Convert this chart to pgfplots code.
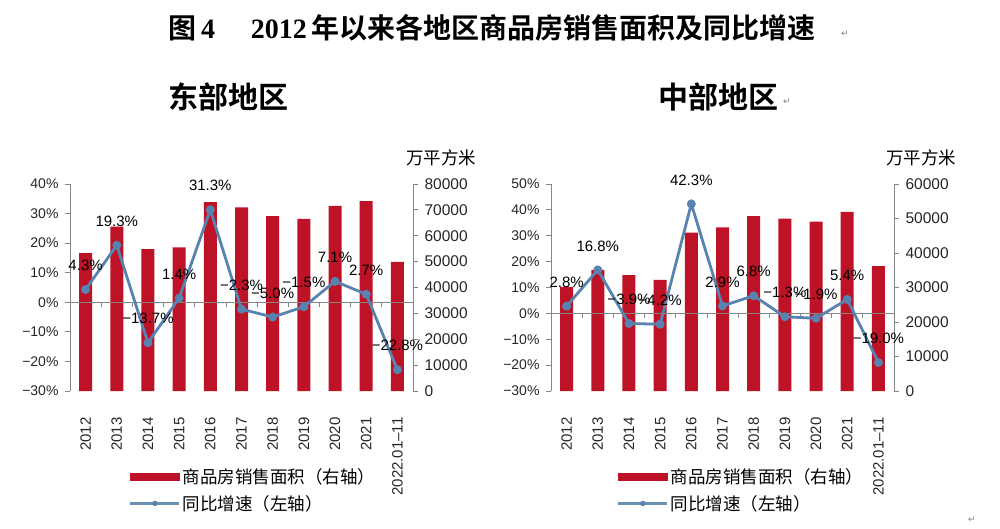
\documentclass[border=0pt]{standalone}
\usepackage{fontspec}
\usepackage{pgfplots}
\pgfplotsset{compat=1.18}
\setmainfont{Liberation Sans}
\newfontfamily\cjk{Noto Sans CJK SC}[BoldFont={Noto Sans CJK SC Bold}]
\newfontfamily\serif{Liberation Serif}
\newfontfamily\dejavu{DejaVu Sans}
\definecolor{barred}{RGB}{190,18,38}
\definecolor{lineblue}{RGB}{88,131,176}
\definecolor{legblue}{RGB}{105,145,180}
\definecolor{axgray}{RGB}{134,134,134}
\pgfplotsset{
  base/.style={scale only axis, width=343pt, height=207pt, xmin=-0.5, xmax=10.5,
    anchor=south west, /pgf/number format/assume math mode=true},
  barax/.style={base, ybar, bar width=13pt, axis y line*=right, axis x line*=bottom,
    x axis line style={draw=none}, xtick={0,...,10},
    xticklabels={2012,2013,2014,2015,2016,2017,2018,2019,2020,2021,2022.01–11},
    x tick label style={rotate=90, anchor=east, font=\fontsize{15}{17}\selectfont, text=black!85},
    xticklabel shift=18pt,
    xtick style={draw=none},
    ymin=0, y axis line style={axgray, line width=0.8pt}, ytick style={axgray, line width=0.8pt},
    tick align=outside, major tick length=5pt, scaled y ticks=false,
    y tick label style={font=\fontsize{15.5}{17}\selectfont, text=black!85, /pgf/number format/.cd, fixed, 1000 sep={}},
    yticklabel shift=3pt},
  lineax/.style={base, axis y line*=left, axis x line*=middle, clip=false,
    x axis line style={axgray, line width=0.8pt}, y axis line style={axgray, line width=0.8pt},
    xtick={0.5,1.5,...,9.5}, xticklabels={,,,,,,,,,,},
    tick style={axgray, line width=0.8pt}, tick align=outside, major tick length=5pt,
    y tick label style={font=\fontsize{14}{16}\selectfont, text=black!85},
    yticklabel shift=3pt,
    legend style={draw=none, fill=none, font=\cjk\fontsize{17.5}{19}\selectfont, row sep=6pt, inner sep=0pt},
    legend cell align=left},
  growth/.style={lineblue, line width=2.8pt, mark=*, mark size=3pt, mark options={solid, fill=lineblue, draw=lineblue},
    nodes near coords, point meta=explicit symbolic,
    every node near coord/.append style={font=\fontsize{15}{17}\selectfont, text=black, anchor=center, yshift=24pt}},
}
\begin{document}
\begin{tikzpicture}
\useasboundingbox (0,0) rectangle (1000pt,528pt);
% titles
\node[font=\cjk\bfseries\fontsize{28}{30}\selectfont] at (492pt,500pt) {图\,{\serif\bfseries 4}\hspace{36pt}{\serif\bfseries 2012}\,年以来各地区商品房销售面积及同比增速};
\node[font=\dejavu\fontsize{9}{10}\selectfont, text=black!50] at (845pt,494pt) {↵};
\node[font=\cjk\bfseries\fontsize{30}{32}\selectfont] at (228pt,431pt) {东部地区};
\node[font=\cjk\bfseries\fontsize{30}{32}\selectfont] at (718pt,431pt) {中部地区};
\node[font=\dejavu\fontsize{9}{10}\selectfont, text=black!50] at (787pt,426pt) {↵};
\node[font=\dejavu\fontsize{9}{10}\selectfont, text=black!50] at (972pt,8pt) {↵};
\node[font=\cjk\fontsize{17.5}{19}\selectfont] at (441pt,370pt) {万平方米};
\node[font=\cjk\fontsize{17.5}{19}\selectfont] at (921pt,370pt) {万平方米};

% ===== East =====
\begin{axis}[barax, at={(70pt,137pt)}, ymax=80000, ytick={0,10000,...,80000}]
\addplot[fill=barred, draw=none] coordinates {(0,53300) (1,63500) (2,54800) (3,55500) (4,73000) (5,71000) (6,67600) (7,66500) (8,71500) (9,73400) (10,49900)};
\end{axis}
\begin{axis}[lineax, at={(70pt,137pt)}, ymin=-30, ymax=40, ytick={-30,-20,...,40},
  yticklabels={−30\%,−20\%,−10\%,0\%,10\%,20\%,30\%,40\%},
  legend style={at={(0.172,-0.365)}, anchor=north west}]
\addplot[growth, forget plot] coordinates {(0,4.3) [4.3\%] (1,19.3) [19.3\%] (2,-13.7) [−13.7\%] (3,1.4) [1.4\%] (4,31.3) [31.3\%] (5,-2.3) [−2.3\%] (6,-5.0) [−5.0\%] (7,-1.5) [−1.5\%] (8,7.1) [7.1\%] (9,2.7) [2.7\%] (10,-22.8) [−22.8\%]};
\addlegendimage{legend image code/.code={\fill[barred] (0pt,-3.5pt) rectangle (49pt,3.5pt);}}
\addlegendentry{商品房销售面积（右轴）}
\addlegendimage{legend image code/.code={\draw[legblue, line width=2.5pt] (0pt,0pt) -- (49pt,0pt); \fill[lineblue] (24.5pt,0pt) circle (2.5pt);}}
\addlegendentry{同比增速（左轴）}
\end{axis}

% ===== Central =====
\begin{axis}[barax, at={(551pt,137pt)}, ymax=60000, ytick={0,10000,...,60000}]
\addplot[fill=barred, draw=none] coordinates {(0,30200) (1,35100) (2,33600) (3,32200) (4,45900) (5,47400) (6,50700) (7,50000) (8,49100) (9,51900) (10,36200)};
\end{axis}
\begin{axis}[lineax, at={(551pt,137pt)}, ymin=-30, ymax=50, ytick={-30,-20,...,50},
  yticklabels={−30\%,−20\%,−10\%,0\%,10\%,20\%,30\%,40\%,50\%},
  legend style={at={(0.192,-0.365)}, anchor=north west}]
\addplot[growth, forget plot] coordinates {(0,2.8) [2.8\%] (1,16.8) [16.8\%] (2,-3.9) [−3.9\%] (3,-4.2) [−4.2\%] (4,42.3) [42.3\%] (5,2.9) [2.9\%] (6,6.8) [6.8\%] (7,-1.3) [−1.3\%] (8,-1.9) [−1.9\%] (9,5.4) [5.4\%] (10,-19.0) [−19.0\%]};
\addlegendimage{legend image code/.code={\fill[barred] (0pt,-3.5pt) rectangle (49pt,3.5pt);}}
\addlegendentry{商品房销售面积（右轴）}
\addlegendimage{legend image code/.code={\draw[legblue, line width=2.5pt] (0pt,0pt) -- (49pt,0pt); \fill[lineblue] (24.5pt,0pt) circle (2.5pt);}}
\addlegendentry{同比增速（左轴）}
\end{axis}
\end{tikzpicture}
\end{document}
